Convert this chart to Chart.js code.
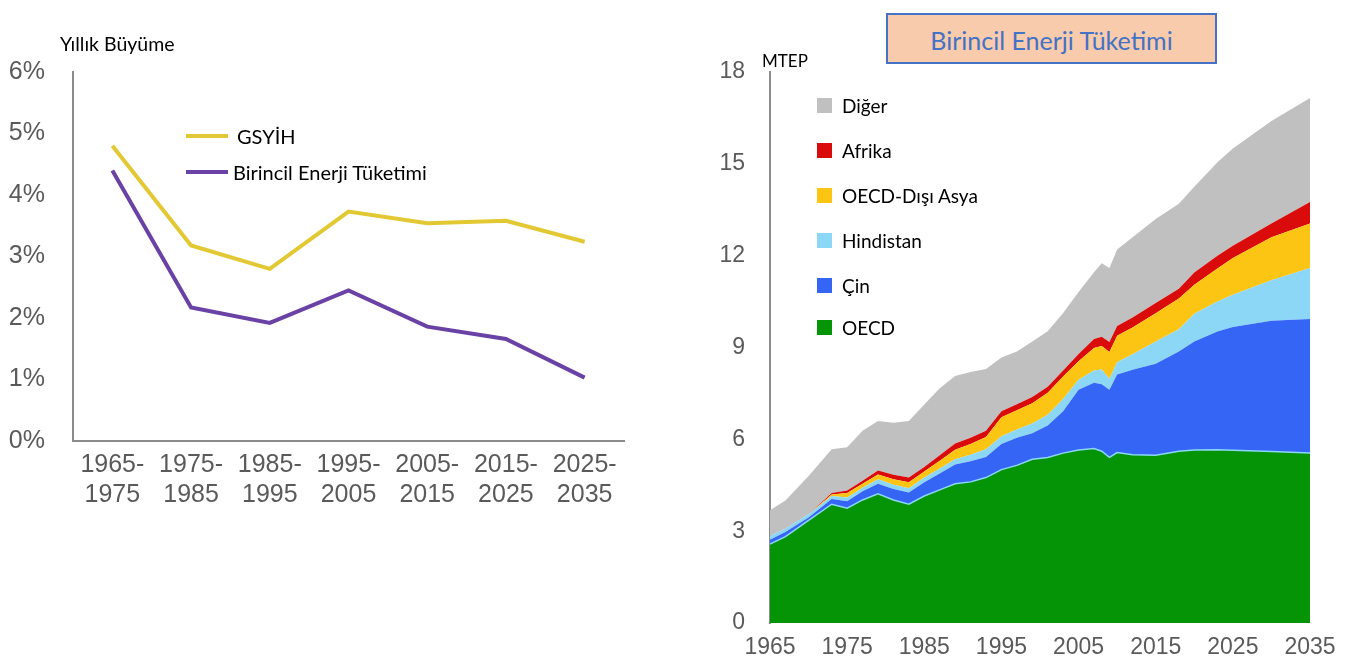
<!DOCTYPE html>
<html lang="tr">
<head>
<meta charset="utf-8">
<script src="https://cdn.jsdelivr.net/npm/chart.js@4.4.0/dist/chart.umd.min.js"></script>
<style>
  body { margin: 0; background: #fff; width: 1359px; height: 666px; position: relative; overflow: hidden; font-family: Lato, "Open Sans", sans-serif; }
  .box { position: absolute; }
  #leftWrap { left: 0; top: 0; width: 660px; height: 520px; }
  #rightWrap { left: 690px; top: 0; width: 669px; height: 666px; }
  .lbl { position: absolute; color: #000; white-space: nowrap; }
  .seg { position: absolute; height: 4px; width: 42px; }
  .sq { position: absolute; width: 15px; height: 15px; }
  #title { position: absolute; left: 886px; top: 13px; width: 327px; height: 47px; background: #F8CBAD; border: 2px solid #4472C4;
           color: #4472C4; font-size: 25px; text-align: center; line-height: 50px; }
</style>
</head>
<body>
<div id="leftWrap" class="box"><canvas id="growth" width="660" height="520"></canvas></div>
<div id="rightWrap" class="box"><canvas id="energy" width="669" height="666"></canvas></div>

<!-- left chart labels -->
<div class="lbl" style="left:60px; top:32px; font-size:19.5px;">Yıllık Büyüme</div>
<div class="seg" style="left:186px; top:134px; background:#E2C933;"></div>
<div class="lbl" style="left:237px; top:124px; font-size:20px;">GSYİH</div>
<div class="seg" style="left:186px; top:170px; background:#6A42A6;"></div>
<div class="lbl" style="left:233px; top:160px; font-size:20px;">Birincil Enerji Tüketimi</div>

<!-- right chart labels -->
<div id="title">Birincil Enerji Tüketimi</div>
<div class="lbl" style="left:762px; top:50px; font-size:17px;">MTEP</div>
<div id="legend"></div>

<script>
// ---- left chart data ----
const periods = [
  ["1965-", "1975"], ["1975-", "1985"], ["1985-", "1995"], ["1995-", "2005"],
  ["2005-", "2015"], ["2015-", "2025"], ["2025-", "2035"]
];
const gsyih = [4.8, 3.18, 2.8, 3.73, 3.54, 3.58, 3.24];
const enerjiBuyume = [4.4, 2.17, 1.92, 2.45, 1.86, 1.66, 1.03];

// ---- right chart data (MTEP, by region) ----
const years = [1965, 1967, 1970, 1973, 1975, 1977, 1979, 1981, 1983, 1985, 1987, 1989, 1991, 1993, 1995, 1997,
               1999, 2001, 2003, 2005, 2007, 2008, 2009, 2010, 2012, 2015, 2018, 2020, 2023, 2025, 2030, 2035];
const oecd = [2.58, 2.82, 3.35, 3.88, 3.75, 4.02, 4.22, 4.02, 3.88, 4.15, 4.35, 4.55, 4.61, 4.75, 5.01, 5.15,
              5.35, 5.41, 5.55, 5.65, 5.7, 5.61, 5.41, 5.57, 5.5, 5.48, 5.61, 5.65, 5.66, 5.64, 5.6, 5.55];
const cin = [0.14, 0.15, 0.10, 0.17, 0.23, 0.28, 0.33, 0.36, 0.38, 0.45, 0.53, 0.63, 0.67, 0.67, 0.84, 0.90,
             0.85, 1.04, 1.37, 1.97, 2.15, 2.19, 2.21, 2.55, 2.77, 2.99, 3.26, 3.55, 3.86, 4.03, 4.27, 4.38];
const hindistan = [0.13, 0.11, 0.10, 0.10, 0.12, 0.12, 0.15, 0.14, 0.14, 0.15, 0.17, 0.17, 0.22, 0.26, 0.25, 0.27,
                   0.32, 0.35, 0.40, 0.33, 0.40, 0.48, 0.36, 0.40, 0.51, 0.73, 0.73, 0.90, 0.98, 1.05, 1.33, 1.67];
const asya = [0, 0, 0, 0.05, 0.15, 0.13, 0.15, 0.18, 0.20, 0.20, 0.25, 0.31, 0.35, 0.40, 0.62, 0.63,
              0.66, 0.72, 0.73, 0.60, 0.73, 0.77, 0.87, 0.86, 0.87, 0.92, 1.00, 0.95, 1.08, 1.20, 1.40, 1.45];
const afrika = [0, 0, 0, 0.05, 0.08, 0.10, 0.13, 0.14, 0.15, 0.15, 0.18, 0.20, 0.20, 0.20, 0.20, 0.20,
                0.20, 0.20, 0.20, 0.24, 0.30, 0.30, 0.33, 0.32, 0.33, 0.33, 0.32, 0.40, 0.42, 0.40, 0.45, 0.70];
const diger = [0.83, 0.92, 1.25, 1.43, 1.41, 1.63, 1.62, 1.70, 1.85, 2.04, 2.19, 2.21, 2.15, 2.02, 1.75, 1.72,
               1.82, 1.81, 1.88, 2.02, 2.18, 2.40, 2.42, 2.50, 2.62, 2.75, 2.78, 2.80, 3.05, 3.18, 3.35, 3.40];

const regions = [
  { name: "OECD", values: oecd, color: "#059405" },
  { name: "Çin", values: cin, color: "#3565F5" },
  { name: "Hindistan", values: hindistan, color: "#8CD6F6" },
  { name: "OECD-Dışı Asya", values: asya, color: "#FDC513" },
  { name: "Afrika", values: afrika, color: "#DA0B0B" },
  { name: "Diğer", values: diger, color: "#C0C0C0" }
];

const axisFont = { family: "'Liberation Sans', Arial, sans-serif", size: 25 };
const tickColor = "#5a5a5a";

// legend on right chart (top to bottom = reverse stack order)
const legendTops = [320, 278, 233, 188, 143, 98];
const legend = document.getElementById("legend");
regions.forEach((r, i) => {
  const sq = document.createElement("div");
  sq.className = "sq";
  sq.style.left = "817px";
  sq.style.top = legendTops[i] + "px";
  sq.style.background = r.color;
  legend.appendChild(sq);
  const t = document.createElement("div");
  t.className = "lbl";
  t.style.left = "842px";
  t.style.top = (legendTops[i] - 4) + "px";
  t.style.fontSize = "19px";
  t.textContent = r.name;
  legend.appendChild(t);
});

// left: growth lines
new Chart(document.getElementById("growth"), {
  type: "line",
  data: {
    labels: periods,
    datasets: [
      { label: "GSYİH", data: gsyih, borderColor: "#E2C933", borderWidth: 4, pointRadius: 0, tension: 0 },
      { label: "Birincil Enerji Tüketimi", data: enerjiBuyume, borderColor: "#6A42A6", borderWidth: 4, pointRadius: 0, tension: 0 }
    ]
  },
  options: {
    responsive: false,
    animation: false,
    layout: { padding: { top: 72, right: 36, left: 0, bottom: 0 } },
    plugins: { legend: { display: false }, tooltip: { enabled: false } },
    scales: {
      x: {
        offset: true,
        grid: { display: false },
        border: { display: true, color: "#8c8c8c", width: 2 },
        ticks: { color: tickColor, font: { ...axisFont, lineHeight: 1.2 }, padding: 1, maxRotation: 0, autoSkip: false },
        afterFit: (s) => { s.height = 79; }
      },
      y: {
        min: 0, max: 6,
        grid: { display: false },
        border: { display: true, color: "#8c8c8c", width: 2 },
        ticks: { stepSize: 1, color: tickColor, font: axisFont, padding: 20, callback: (v) => v + "%" },
        afterFit: (s) => { s.width = 73; }
      }
    }
  }
});

// right: stacked areas
new Chart(document.getElementById("energy"), {
  type: "line",
  data: {
    datasets: regions.map((r, i) => ({
      label: r.name,
      data: years.map((y, j) => ({ x: y, y: r.values[j] })),
      backgroundColor: r.color,
      borderColor: i === 0 ? "#8CD6F6" : r.color,
      borderWidth: i === 0 ? 1.5 : 0,
      fill: i === 0 ? "origin" : "-1",
      pointRadius: 0,
      tension: 0
    }))
  },
  options: {
    responsive: false,
    animation: false,
    layout: { padding: { top: 72, right: 49, left: 0, bottom: 0 } },
    plugins: { legend: { display: false }, tooltip: { enabled: false } },
    scales: {
      x: {
        type: "linear",
        min: 1965, max: 2035,
        grid: { display: false },
        border: { display: false },
        ticks: { stepSize: 10, color: tickColor, font: { ...axisFont, size: 23 }, padding: 3, maxRotation: 0, autoSkip: false,
                 callback: (v) => String(v) },
        afterFit: (s) => { s.height = 43; }
      },
      y: {
        stacked: true,
        min: 0, max: 18,
        grid: { display: false },
        border: { display: true, color: "#8c8c8c", width: 2 },
        ticks: { stepSize: 3, color: tickColor, font: { ...axisFont, size: 23 }, padding: 17 },
        afterFit: (s) => { s.width = 80; }
      }
    }
  }
});
</script>
</body>
</html>
